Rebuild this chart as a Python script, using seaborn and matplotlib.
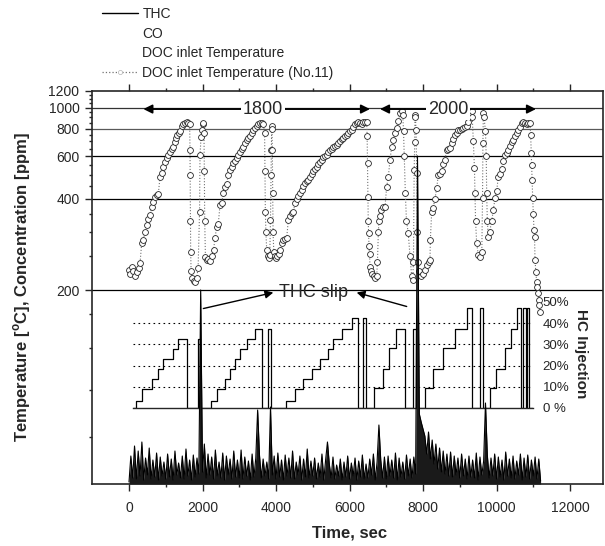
import numpy as np
import pandas as pd
import seaborn as sns
import matplotlib.pyplot as plt
from matplotlib.lines import Line2D
from matplotlib.ticker import FixedLocator, NullFormatter

# DOC inlet temperature (No.11): time [s], temperature [C]
temp_time = [
    # cycle 1
    0, 40, 80, 120, 170, 220, 270, 300, 345, 390,
    435, 480, 525, 571, 620, 660, 707, 750, 798, 844,
    889, 935, 980, 1025, 1071, 1116, 1160, 1207, 1252, 1290,
    1315, 1350, 1388, 1433, 1480, 1524, 1570, 1615, 1650, 1660,
    1665, 1672, 1678, 1690, 1720, 1760, 1800, 1840, 1880, 1920,
    1932, 1960, 1985, 2010, 2024, 2040, 2050, 2060, 2080, 2114,
    2150, 2200, 2250, 2300,
    # cycle 2
    2340, 2386, 2430, 2476, 2520, 2570, 2612, 2660, 2700, 2748,
    2800, 2840, 2885, 2930, 2975, 3020, 3065, 3111, 3155, 3200,
    3250, 3293, 3340, 3384, 3430, 3474, 3520, 3565, 3610, 3655,
    3690, 3700, 3710, 3725, 3747, 3770, 3800, 3830, 3850, 3865,
    3875, 3882, 3890, 3900, 3910, 3920, 3940, 3970, 4000, 4040,
    4080, 4120,
    # cycle 3
    4154, 4200, 4245, 4290, 4336, 4380, 4426, 4472, 4520, 4563,
    4608, 4653, 4700, 4745, 4790, 4835, 4880, 4925, 4970, 5016,
    5061, 5107, 5152, 5198, 5243, 5288, 5334, 5379, 5425, 5470,
    5515, 5560, 5606, 5651, 5697, 5742, 5787, 5833, 5878, 5923,
    5968, 6014, 6060, 6105, 6150, 6196, 6240, 6285, 6330, 6377,
    6422, 6468, 6480, 6490, 6500, 6510, 6520, 6530, 6545, 6558,
    6590, 6625, 6660, 6694,
    # cycle 4
    6740, 6760, 6785, 6800, 6830, 6870, 6920, 6966, 7012, 7057,
    7102, 7148, 7193, 7240, 7284, 7330, 7374, 7420, 7450, 7470,
    7490, 7520, 7550, 7600, 7646, 7692, 7720, 7740, 7760, 7775,
    7782, 7795, 7810, 7830, 7850, 7870, 7900, 7950, 8000, 8050,
    8100, 8150,
    # cycle 5
    8190, 8200, 8236, 8280, 8326, 8372, 8417, 8462, 8508, 8553,
    8599, 8644, 8690, 8735, 8780, 8825, 8870, 8916, 8961, 9006,
    9050, 9097, 9142, 9188, 9233, 9279, 9324, 9340, 9370, 9400,
    9415, 9430, 9460, 9506, 9550, 9600, 9620, 9630, 9642, 9660,
    9700, 9720, 9733, 9750, 9778, 9810,
    # cycle 6
    9870, 9914, 9960, 10005, 10050, 10095, 10140, 10186, 10231, 10277,
    10322, 10368, 10413, 10458, 10504, 10549, 10594, 10640, 10685, 10730,
    10776, 10822, 10867, 10912, 10930, 10945, 10957, 10970, 10985, 11002,
    11020, 11035, 11048, 11070, 11093, 11110, 11130, 11150, 11170, 11190,
]
temp_value = [
    228, 222, 232, 226, 218, 224, 230, 238, 276, 283,
    302, 318, 335, 347, 372, 390, 408, 415, 418, 492,
    508, 540, 565, 590, 609, 630, 645, 662, 697, 725,
    747, 760, 777, 820, 835, 850, 855, 850, 840, 640,
    500, 330, 258, 225, 215, 212, 210, 215, 230, 357,
    609, 730, 790, 840, 850, 760, 520, 330, 248, 244,
    246, 242, 250, 262,
    287, 314, 322, 379, 385, 420, 448, 460, 500, 525,
    540, 560, 575, 590, 610, 625, 645, 662, 690, 710,
    725, 738, 760, 785, 805, 820, 840, 850, 848, 840,
    762, 520, 357, 300, 262, 250, 247, 252, 332, 500,
    641, 820, 800, 640, 420, 300, 258, 250, 247, 250,
    255, 262,
    276, 282, 285, 287, 332, 345, 352, 357, 385, 400,
    410, 420, 435, 452, 462, 470, 477, 490, 505, 520,
    530, 542, 555, 568, 580, 595, 605, 609, 625, 638,
    648, 660, 668, 674, 690, 705, 715, 725, 738, 747,
    765, 780, 790, 810, 835, 850, 858, 850, 842, 855,
    860, 860, 738, 560, 408, 330, 298, 270, 255, 232,
    225, 222, 218, 216,
    218, 240, 300, 330, 345, 362, 373, 373, 448, 492,
    579, 662, 710, 760, 805, 870, 941, 960, 920, 777,
    600, 420, 330, 298, 250, 218, 213, 240, 525, 697,
    923, 900, 787, 508, 300, 240, 225, 218, 222, 228,
    235, 240,
    244, 283, 357, 370, 400, 441, 500, 505, 520, 555,
    579, 641, 650, 655, 690, 720, 745, 765, 787, 790,
    795, 805, 815, 820, 860, 941, 960, 900, 700, 534,
    420, 330, 276, 252, 248, 258, 402, 685, 941, 900,
    780, 600, 420, 330, 290, 300,
    330, 362, 402, 430, 492, 505, 530, 575, 609, 620,
    640, 670, 697, 710, 740, 765, 787, 815, 850, 855,
    845, 840, 845, 850, 747, 620, 551, 477, 402, 350,
    306, 290, 244, 224, 210, 204, 196, 189, 183, 177,
]

# HC injection steps: time [s], rate [%]
hc_time = [109, 190, 345, 617, 798, 934, 1188, 1342, 1587, 1868, 1932,
           2231, 2386, 2612, 2748, 2884, 3020, 3202, 3429, 3610, 3773, 3864,
           4272, 4517, 4744, 4971, 5197, 5424, 5560, 5787, 6059, 6240, 6376, 6440,
           6667, 6903, 7084, 7265, 7510, 7719, 7810,
           8054, 8281, 8553, 8871, 9188, 9324, 9551, 9642,
           9823, 9986, 10231, 10386, 10549, 10658, 10730, 10794, 10821, 10884, 10993]
hc_rate = [0, 3.5, 8.8, 13.5, 18.2, 23.0, 27.7, 32.4, 0, 32.4, 0,
           3.5, 8.8, 13.5, 18.2, 23.0, 27.7, 32.4, 37.1, 0, 37.1, 0,
           3.5, 8.8, 13.5, 18.2, 23.0, 27.7, 32.4, 37.1, 42.3, 0, 42.3, 0,
           9.3, 18.2, 28.2, 37.1, 0, 37.1, 0,
           9.3, 18.2, 28.2, 37.1, 47.0, 0, 47.0, 0,
           9.3, 18.2, 28.2, 37.1, 47.0, 0, 47.0, 0, 47.0, 0, 0]

# THC trace, one reading every 50 s (0 .. 11200 s)
thc_time = np.arange(0, 11250, 50)
thc_ppm = [
    2, 28, 6, 38, 5, 33, 8, 42, 4, 26, 9, 36, 5, 24, 7, 31, 4, 27, 8, 22,
    5, 30, 7, 25, 4, 33, 9, 21, 6, 28, 5, 35, 8, 24, 4, 29, 7, 26, 10, 194,
    12, 40, 6, 30, 9, 27, 5, 34, 8, 22, 6, 31, 4, 28, 9, 25, 5, 33, 7, 24,
    6, 34, 5, 27, 8, 23, 4, 30, 7, 26, 74, 29, 6, 25, 8, 22, 5, 77, 9, 28,
    5, 31, 7, 24, 4, 29, 8, 26, 6, 33, 5, 22, 9, 28, 4, 25, 7, 35, 6, 23,
    8, 26, 5, 21, 7, 30, 4, 24, 42, 20, 6, 27, 5, 19, 8, 25, 4, 22, 7, 28,
    5, 21, 8, 26, 4, 23, 7, 29, 5, 20, 6, 25, 9, 30, 4, 22, 59, 24, 6, 27,
    5, 28, 8, 24, 6, 31, 4, 26, 7, 22, 5, 29, 8, 25, 6, 27, 10, 328, 70, 62,
    55, 48, 30, 52, 25, 44, 20, 40, 15, 36, 12, 33, 10, 30, 8, 32, 7, 28, 9, 26,
    6, 30, 8, 25, 5, 28, 7, 24, 6, 31, 4, 27, 9, 23, 81, 29, 6, 26, 8, 30,
    5, 27, 7, 24, 4, 32, 8, 25, 6, 28, 5, 23, 9, 30, 4, 26, 7, 29, 5, 24,
    8, 27, 5, 25, 3,
]

x_ticks = [0, 2000, 4000, 6000, 8000, 10000, 12000]
x_minor = [1000, 3000, 5000, 7000, 9000, 11000]
y_ticks = [200, 400, 600, 800, 1000, 1200]
y_minor = [117, 130, 150, 175, 250, 300, 350, 450, 500, 550, 650, 700, 750,
           850, 900, 950, 1050, 1100, 1150]
hc_ticks = [0, 10, 20, 30, 40, 50]
hc_labels = ['0 %', '10%', '20%', '30%', '40%', '50%']

W, H = 605, 546


def fwd(v):
    return np.log10(np.clip(np.asarray(v, dtype=float) - 100, 1e-3, None))


def inv(u):
    return 10 ** np.asarray(u, dtype=float) + 100


def px_box(left, top, right, bottom):
    return [left / W, 1 - bottom / H, (right - left) / W, (bottom - top) / H]


def draw_main(fig):
    ax = fig.add_axes(px_box(92, 91, 603, 484))
    ax.set_yscale('function', functions=(fwd, inv))
    ax.set_xlim(-1007, 12898)
    ax.set_ylim(109.66, 1200)

    for v, c in [(200, 'k'), (400, 'k'), (600, 'k'), (800, '0.35'), (1000, '0.2')]:
        ax.axhline(v, color=c, lw=0.9, zorder=1)

    df = pd.DataFrame({'time': temp_time, 'temp': temp_value})
    sns.lineplot(data=df, x='time', y='temp', ax=ax, estimator=None, sort=False,
                 color='0.45', lw=0.8, linestyle=':', marker='o', markersize=4.2,
                 markerfacecolor='white', markeredgecolor='0.15',
                 markeredgewidth=0.6, zorder=3)

    # cycle length markers
    for x0, x1, xc, lab in [(390, 6558, 3646, '1800'), (6830, 11075, 8680, '2000')]:
        ax.annotate('', xy=(x0, 985), xytext=(x1, 985),
                    arrowprops=dict(arrowstyle='<|-|>', color='k', lw=1.3,
                                    shrinkA=0, shrinkB=0, mutation_scale=13))
        ax.text(xc, 985, lab, ha='center', va='center', fontsize=13, zorder=5,
                bbox=dict(fc='white', ec='none', pad=1.5))

    ax.text(5007, 197.5, 'THC slip', ha='center', va='center', fontsize=13, zorder=5)
    for tail, head in [((2023, 180), (3927, 197)), ((7556, 182), (6195, 197))]:
        ax.annotate('', xy=head, xytext=tail,
                    arrowprops=dict(arrowstyle='-|>', color='k', lw=1.0,
                                    shrinkA=0, shrinkB=0, mutation_scale=12))

    ax.set_xticks(x_ticks)
    ax.set_xticklabels([str(v) for v in x_ticks])
    ax.xaxis.set_minor_locator(FixedLocator(x_minor))
    ax.set_yticks(y_ticks)
    ax.set_yticklabels([str(v) for v in y_ticks])
    ax.yaxis.set_minor_locator(FixedLocator(y_minor))
    ax.yaxis.set_minor_formatter(NullFormatter())
    ax.tick_params(axis='x', which='both', direction='out', top=True, bottom=True,
                   labelsize=10, pad=7, width=1)
    ax.tick_params(axis='y', which='both', direction='out', left=True, right=False,
                   labelsize=10, pad=4, width=1)
    ax.tick_params(which='major', length=5)
    ax.tick_params(which='minor', length=2.5)
    for s in ax.spines.values():
        s.set_linewidth(1.2)

    ax.set_xlabel('Time, sec', fontsize=12, fontweight='bold')
    ax.xaxis.set_label_coords(0.505, -0.105)
    ax.set_ylabel(r'Temperature [$^{\rm o}$C], Concentration [ppm]',
                  fontsize=12, fontweight='bold')
    ax.yaxis.set_label_coords(-0.116, 0.5)
    return ax


def draw_hc(fig):
    hax = fig.add_axes(px_box(133, 302, 533, 408))
    hax.patch.set_visible(False)
    for v in [10, 20, 30, 40]:
        hax.axhline(v, color='k', lw=0.8, ls=(0, (1.5, 3)), zorder=1)
    sns.lineplot(x=hc_time, y=hc_rate, ax=hax, estimator=None, color='k', lw=0.9,
                 drawstyle='steps-post', zorder=2)
    hax.set_xlim(109, 10993)
    hax.set_ylim(0, 50)
    for k in ['top', 'left', 'right']:
        hax.spines[k].set_visible(False)
    hax.spines['bottom'].set_linewidth(1)
    hax.set_xticks([])
    hax.yaxis.tick_right()
    hax.set_yticks(hc_ticks)
    hax.set_yticklabels(hc_labels)
    hax.tick_params(axis='y', length=0, pad=7, labelsize=9.5)
    hax.set_xlabel('')
    hax.set_ylabel('')
    fig.text(581 / W, 1 - 354 / H, 'HC Injection', rotation=-90, fontsize=11,
             fontweight='bold', ha='center', va='center')


def draw_thc(fig, ax):
    tax = fig.add_axes(ax.get_position())
    tax.patch.set_visible(False)
    tax.fill_between(thc_time, thc_ppm, color='0.1', lw=0)
    sns.lineplot(x=thc_time, y=thc_ppm, ax=tax, estimator=None, color='k', lw=0.8)
    tax.set_xlim(ax.get_xlim())
    tax.set_ylim(0, 393)
    tax.axis('off')


def main():
    sns.set_style('ticks')
    plt.rcParams['font.family'] = ['Liberation Sans', 'DejaVu Sans']
    plt.rcParams['mathtext.fontset'] = 'custom'
    plt.rcParams['mathtext.rm'] = 'Liberation Sans:bold'

    fig = plt.figure(figsize=(W / 100, H / 100), dpi=100)
    ax = draw_main(fig)
    draw_hc(fig)
    draw_thc(fig, ax)

    handles = [Line2D([], [], color='k', lw=1),
               Line2D([], [], color='white', lw=1),
               Line2D([], [], color='white', lw=1),
               Line2D([], [], color='0.45', lw=0.9, ls=':', marker='o', ms=3,
                      mfc='white', mec='0.7', mew=0.5)]
    labels = ['THC', 'CO', 'DOC inlet Temperature', 'DOC inlet Temperature (No.11)']
    fig.legend(handles, labels, loc='upper left', bbox_to_anchor=(102 / W, 1 - 7 / H),
               frameon=False, fontsize=10, handlelength=2.6, handletextpad=0.3,
               labelspacing=0.4, borderpad=0, borderaxespad=0)

    fig.savefig('out.png', dpi=100)


if __name__ == "__main__":
    main()
